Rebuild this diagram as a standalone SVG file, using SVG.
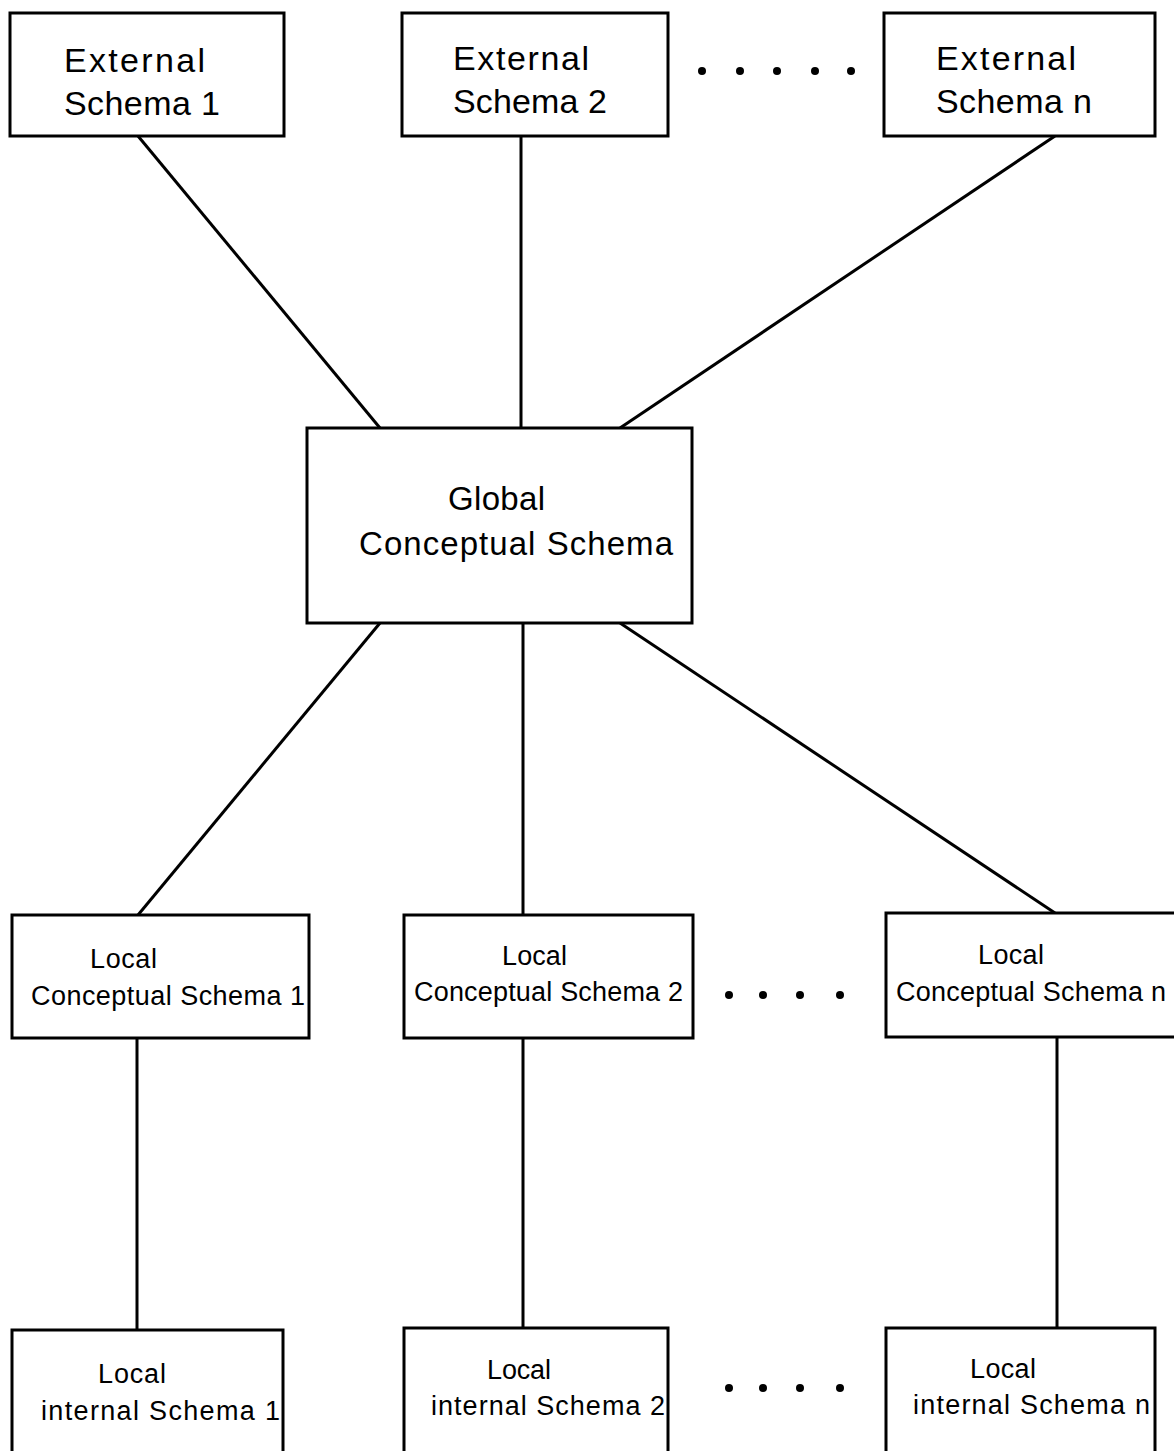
<svg xmlns="http://www.w3.org/2000/svg" width="1174" height="1451" viewBox="0 0 1174 1451">
<style>
.box{fill:#fff;stroke:#000;stroke-width:3}
.ln{stroke:#000;stroke-width:3;fill:none}
.big{font-family:"Liberation Sans",Arial,sans-serif;font-size:34px;fill:#000}
.gl{font-family:"Liberation Sans",Arial,sans-serif;font-size:33px;fill:#000}
.sm{font-family:"Liberation Sans",Arial,sans-serif;font-size:27px;fill:#000}
.dot{fill:#000}
</style>
<rect width="1174" height="1451" fill="#fff"/>
<g id="connectors">
<line class="ln" x1="138" y1="136" x2="380" y2="428"/>
<line class="ln" x1="521" y1="136" x2="521" y2="428"/>
<line class="ln" x1="1055" y1="136" x2="620" y2="428"/>
<line class="ln" x1="380" y1="623" x2="138" y2="915"/>
<line class="ln" x1="523" y1="623" x2="523" y2="915"/>
<line class="ln" x1="620" y1="623" x2="1055" y2="913"/>
<line class="ln" x1="137" y1="1038" x2="137" y2="1330"/>
<line class="ln" x1="523" y1="1038" x2="523" y2="1328"/>
<line class="ln" x1="1057" y1="1037" x2="1057" y2="1328"/>
</g>
<g id="ext1"><rect class="box" x="10" y="13" width="274" height="123"/>
<text class="big" x="64" y="72" textLength="141" lengthAdjust="spacing">External</text>
<text class="big" x="64" y="115" textLength="156" lengthAdjust="spacing">Schema 1</text></g>
<g id="ext2"><rect class="box" x="402" y="13" width="266" height="123"/>
<text class="big" x="453" y="70" textLength="136" lengthAdjust="spacing">External</text>
<text class="big" x="453" y="113" textLength="154" lengthAdjust="spacing">Schema 2</text></g>
<g id="extn"><rect class="box" x="884" y="13" width="271" height="123"/>
<text class="big" x="936" y="70" textLength="140" lengthAdjust="spacing">External</text>
<text class="big" x="936" y="113" textLength="156" lengthAdjust="spacing">Schema n</text></g>
<g id="dots-top"><circle class="dot" cx="702" cy="71" r="4"/><circle class="dot" cx="740" cy="71" r="4"/><circle class="dot" cx="777" cy="71" r="4"/><circle class="dot" cx="815" cy="71" r="4"/><circle class="dot" cx="851" cy="71" r="4"/></g>
<g id="global"><rect class="box" x="307" y="428" width="385" height="195"/>
<text class="gl" x="448" y="510" textLength="97" lengthAdjust="spacing">Global</text>
<text class="gl" x="359" y="555" textLength="314" lengthAdjust="spacing">Conceptual  Schema</text></g>
<g id="lcs1"><rect class="box" x="12" y="915" width="297" height="123"/>
<text class="sm" x="90" y="968" textLength="67" lengthAdjust="spacing">Local</text>
<text class="sm" x="31" y="1005" textLength="274" lengthAdjust="spacing">Conceptual Schema 1</text></g>
<g id="lcs2"><rect class="box" x="404" y="915" width="289" height="123"/>
<text class="sm" x="502" y="965" textLength="65" lengthAdjust="spacing">Local</text>
<text class="sm" x="414" y="1001" textLength="269" lengthAdjust="spacing">Conceptual Schema 2</text></g>
<g id="lcsn"><rect class="box" x="886" y="913" width="300" height="124"/>
<text class="sm" x="978" y="964" textLength="66" lengthAdjust="spacing">Local</text>
<text class="sm" x="896" y="1001" textLength="270" lengthAdjust="spacing">Conceptual Schema n</text></g>
<g id="dots-mid"><circle class="dot" cx="729" cy="995" r="4"/><circle class="dot" cx="763" cy="995" r="4"/><circle class="dot" cx="800" cy="995" r="4"/><circle class="dot" cx="840" cy="995" r="4"/></g>
<g id="lis1"><rect class="box" x="12" y="1330" width="271" height="140"/>
<text class="sm" x="98" y="1383" textLength="68" lengthAdjust="spacing">Local</text>
<text class="sm" x="41" y="1420" textLength="239" lengthAdjust="spacing">internal Schema 1</text></g>
<g id="lis2"><rect class="box" x="404" y="1328" width="264" height="140"/>
<text class="sm" x="487" y="1379" textLength="64" lengthAdjust="spacing">Local</text>
<text class="sm" x="431" y="1415" textLength="234" lengthAdjust="spacing">internal Schema 2</text></g>
<g id="lisn"><rect class="box" x="886" y="1328" width="269" height="140"/>
<text class="sm" x="970" y="1378" textLength="66" lengthAdjust="spacing">Local</text>
<text class="sm" x="913" y="1414" textLength="237" lengthAdjust="spacing">internal Schema n</text></g>
<g id="dots-bot"><circle class="dot" cx="729" cy="1388" r="4"/><circle class="dot" cx="763" cy="1388" r="4"/><circle class="dot" cx="800" cy="1388" r="4"/><circle class="dot" cx="840" cy="1388" r="4"/></g>
</svg>
